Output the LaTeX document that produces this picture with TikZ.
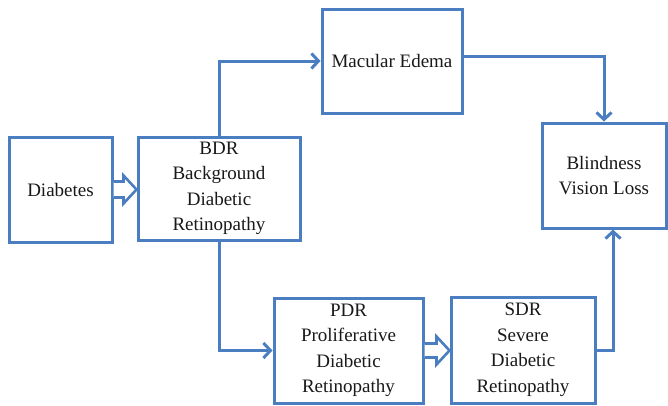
\documentclass[tikz,border=0pt]{standalone}
\usepackage{fontspec}
\setmainfont{Liberation Serif}
\usetikzlibrary{calc,arrows.meta}
\definecolor{ob}{RGB}{74,126,192}
\begin{document}
\begin{tikzpicture}[x=1pt,y=-1pt,
  box/.style={draw=ob, line width=3pt, fill=white, align=center, inner sep=0pt,
    text=black!90, font=\fontsize{19}{25.5}\selectfont},
  conn/.style={draw=ob, line width=3pt, -{Straight Barb[length=7pt,width=15pt,line width=3pt]}},
  dblarrow/.style={draw=ob, line width=2.6pt, fill=white, line join=miter}]
\useasboundingbox (0,0) rectangle (668,405);
\node[box, minimum width=103pt, minimum height=105pt] (dia) at (60.5,189.5) {Diabetes};
\node[box, minimum width=162pt, minimum height=103pt] (bdr) at (219,188.5) {BDR\\Background\\Diabetic\\Retinopathy};
\node[box, minimum width=140pt, minimum height=104pt] (me) at (392,61) {Macular Edema};
\node[box, minimum width=124pt, minimum height=105pt] (bl) at (604,175.5) {Blindness\\Vision Loss};
\node[box, minimum width=149pt, minimum height=105pt] (pdr) at (348.5,350.5) {PDR\\Proliferative\\Diabetic\\Retinopathy};
\node[box, minimum width=144pt, minimum height=106pt] (sdr) at (523,350) {SDR\\Severe\\Diabetic\\Retinopathy};
% connectors
\draw[conn] (bdr.north) |- (me.west);
\draw[conn] ($(me.east)+(0,-5)$) -| (bl.north);
\draw[conn] (bdr.south) |- (pdr.west);
\draw[conn] (sdr.east) -| ($(bl.south)+(9,0)$);
% block double arrows
\coordinate (t1) at (bdr.west |- dia.east);
\draw[dblarrow] ($(dia.east)+(0,-8)$) -- ($(t1)+(-13,-8)$) -- ($(t1)+(-13,-14)$) -- (t1)
  -- ($(t1)+(-13,14)$) -- ($(t1)+(-13,8)$) -- ($(dia.east)+(0,8)$);
\coordinate (t2) at (sdr.west |- pdr.east);
\draw[dblarrow] ($(pdr.east)+(0,-7)$) -- ($(t2)+(-13,-7)$) -- ($(t2)+(-13,-14)$) -- (t2)
  -- ($(t2)+(-13,14)$) -- ($(t2)+(-13,7)$) -- ($(pdr.east)+(0,7)$);
\end{tikzpicture}
\end{document}
